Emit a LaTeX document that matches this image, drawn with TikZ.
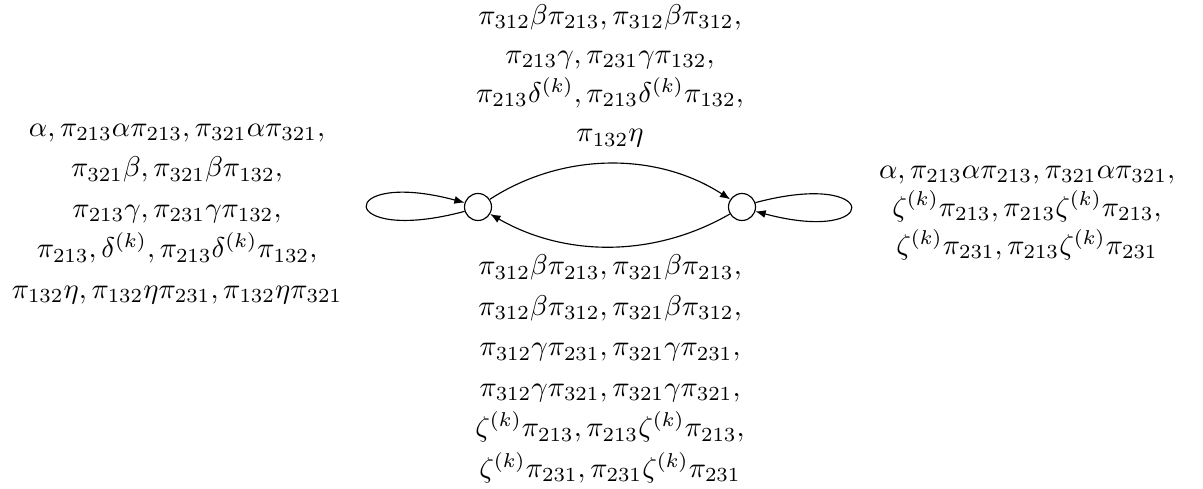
\documentclass[tikz,border=0pt]{standalone}
\usetikzlibrary{arrows.meta}
\begin{document}
\begin{tikzpicture}[x=0.35pt,y=-0.35pt,
  state/.style={circle,draw,minimum size=9.45pt,inner sep=0pt},
  lbl/.style={align=center,inner sep=0pt,font=\fontsize{10}{14.2}\selectfont},
  arr/.style={-{Latex[length=3.6pt,width=2.8pt]},line width=0.4pt}]
\useasboundingbox (0,0) rectangle (1203,489);
\node[state] (L) at (478,207) {};
\node[state] (R) at (742,207) {};
\draw[arr] (L.198) .. controls +(195:47pt) and +(165:47pt) .. (L.162);
\draw[arr] (R.18) .. controls +(15:46pt) and +(-15:46pt) .. (R.-18);
\draw[arr] (L) to[out=33,in=147,looseness=0.93] (R);
\draw[arr] (R) to[out=210,in=-30,looseness=0.93] (L);
\node[lbl,font=\fontsize{10}{13.7}\selectfont] (top) at (610,76)
  {$\pi_{312}\beta\pi_{213}, \pi_{312}\beta\pi_{312},$\\
   $\pi_{213}\gamma, \pi_{231}\gamma\pi_{132},$\\
   $\pi_{213}\delta^{(k)}, \pi_{213}\delta^{(k)}\pi_{132},$\\
   $\pi_{132}\eta$};
\node[lbl] (bot) at (610,369)
  {$\pi_{312}\beta\pi_{213}, \pi_{321}\beta\pi_{213},$\\
   $\pi_{312}\beta\pi_{312}, \pi_{321}\beta\pi_{312},$\\
   $\pi_{312}\gamma\pi_{231}, \pi_{321}\gamma\pi_{231},$\\
   $\pi_{312}\gamma\pi_{321}, \pi_{321}\gamma\pi_{321},$\\
   $\zeta^{(k)}\pi_{213}, \pi_{213}\zeta^{(k)}\pi_{213},$\\
   $\zeta^{(k)}\pi_{231}, \pi_{231}\zeta^{(k)}\pi_{231}$};
\node[lbl] (left) at (177,214)
  {$\alpha, \pi_{213}\alpha\pi_{213}, \pi_{321}\alpha\pi_{321},$\\
   $\pi_{321}\beta, \pi_{321}\beta\pi_{132},$\\
   $\pi_{213}\gamma, \pi_{231}\gamma\pi_{132},$\\
   $\pi_{213}, \delta^{(k)}, \pi_{213}\delta^{(k)}\pi_{132},$\\
   $\pi_{132}\eta, \pi_{132}\eta\pi_{231}, \pi_{132}\eta\pi_{321}$};
\node[lbl,font=\fontsize{10}{13.4}\selectfont] (right) at (1027,213)
  {$\alpha, \pi_{213}\alpha\pi_{213}, \pi_{321}\alpha\pi_{321},$\\
   $\zeta^{(k)}\pi_{213}, \pi_{213}\zeta^{(k)}\pi_{213},$\\
   $\zeta^{(k)}\pi_{231}, \pi_{213}\zeta^{(k)}\pi_{231}$};
\end{tikzpicture}
\end{document}
